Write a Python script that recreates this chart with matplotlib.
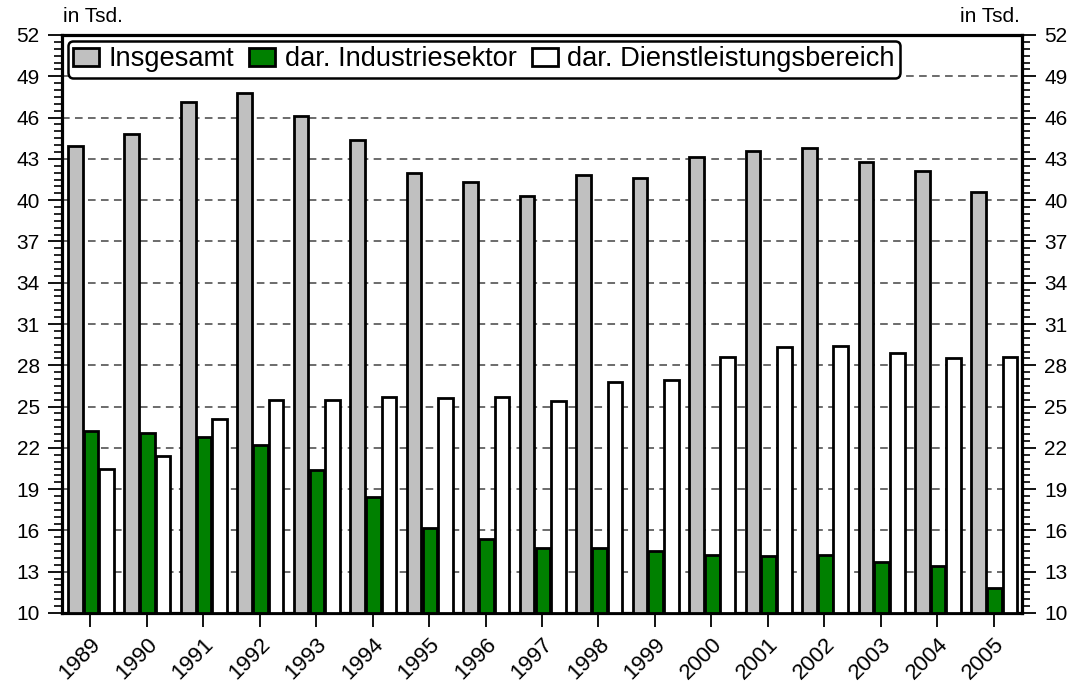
import matplotlib
matplotlib.use("Agg")
import matplotlib.pyplot as plt
import numpy as np
from matplotlib.ticker import MultipleLocator

plt.rcParams['font.family'] = ['Liberation Sans', 'DejaVu Sans']

years = ["1989", "1990", "1991", "1992", "1993", "1994", "1995", "1996", "1997",
         "1998", "1999", "2000", "2001", "2002", "2003", "2004", "2005"]
insgesamt = [43.9, 44.8, 47.1, 47.8, 46.1, 44.4, 42.0, 41.3, 40.3,
             41.8, 41.6, 43.1, 43.6, 43.8, 42.8, 42.1, 40.6]
industrie = [23.2, 23.1, 22.8, 22.2, 20.4, 18.45, 16.15, 15.35, 14.7,
             14.75, 14.5, 14.25, 14.15, 14.2, 13.7, 13.45, 11.8]
dienst = [20.5, 21.4, 24.1, 25.5, 25.5, 25.7, 25.6, 25.7, 25.4,
          26.8, 26.9, 28.6, 29.3, 29.4, 28.9, 28.5, 28.6]
labels = ["Insgesamt", "dar. Industriesektor", "dar. Dienstleistungsbereich"]
colors = ["#c0c0c0", "#008000", "#ffffff"]
yticks = list(range(10, 53, 3))

fig = plt.figure(figsize=(10.82, 6.82), dpi=100)
ax = fig.add_axes([62/1082, (682-613)/682, 960/1082, 578/682])

x = np.arange(len(years))
w = 0.26
offs = [-0.265, 0.015, 0.29]
for vals, off, c, lab in zip([insgesamt, industrie, dienst], offs, colors, labels):
    ax.bar(x + off, np.array(vals) - 10, width=w, bottom=10, color=c,
           edgecolor='black', linewidth=2.0, label=lab, zorder=3)

ax.set_xlim(-0.5, len(years) - 0.5)
ax.set_ylim(10, 52)
ax.set_yticks(yticks)
ax.set_yticklabels([str(t) for t in yticks])
ax.yaxis.set_minor_locator(MultipleLocator(0.5))
ax.set_xticks(x)
ax.set_xticklabels(years, rotation=45, ha='right', va='top', rotation_mode='anchor',
                   fontsize=16)

for t in yticks[1:-1]:
    ax.axhline(t, color='#444444', lw=1.1, linestyle=(0, (5, 3.5)), zorder=1)

ax.tick_params(axis='y', which='major', direction='out', length=10, width=1.3,
               labelsize=15, left=True, right=True, labelleft=True, labelright=True,
               pad=6)
ax.tick_params(axis='y', which='minor', direction='out', length=6, width=1.2,
               left=True, right=True)
ax.tick_params(axis='x', which='major', direction='out', length=10, width=1.3, pad=5)
for s in ax.spines.values():
    s.set_linewidth(2.3)

fig.text(63/1082, 1 - 16/682, "in Tsd.", fontsize=15, ha='left', va='center')
fig.text(1020/1082, 1 - 16/682, "in Tsd.", fontsize=15, ha='right', va='center')

leg = ax.legend(loc='upper left', bbox_to_anchor=(0.0, 1.0), ncol=3, fontsize=19.6,
                frameon=True, fancybox=True, handlelength=0.95, handleheight=0.62,
                handletextpad=0.35, columnspacing=0.55, borderpad=0.2,
                borderaxespad=0.22)
leg.get_frame().set_edgecolor('black')
leg.get_frame().set_linewidth(1.8)
leg.get_frame().set_alpha(1)
leg.set_zorder(5)

fig.savefig("out.png", dpi=100)
